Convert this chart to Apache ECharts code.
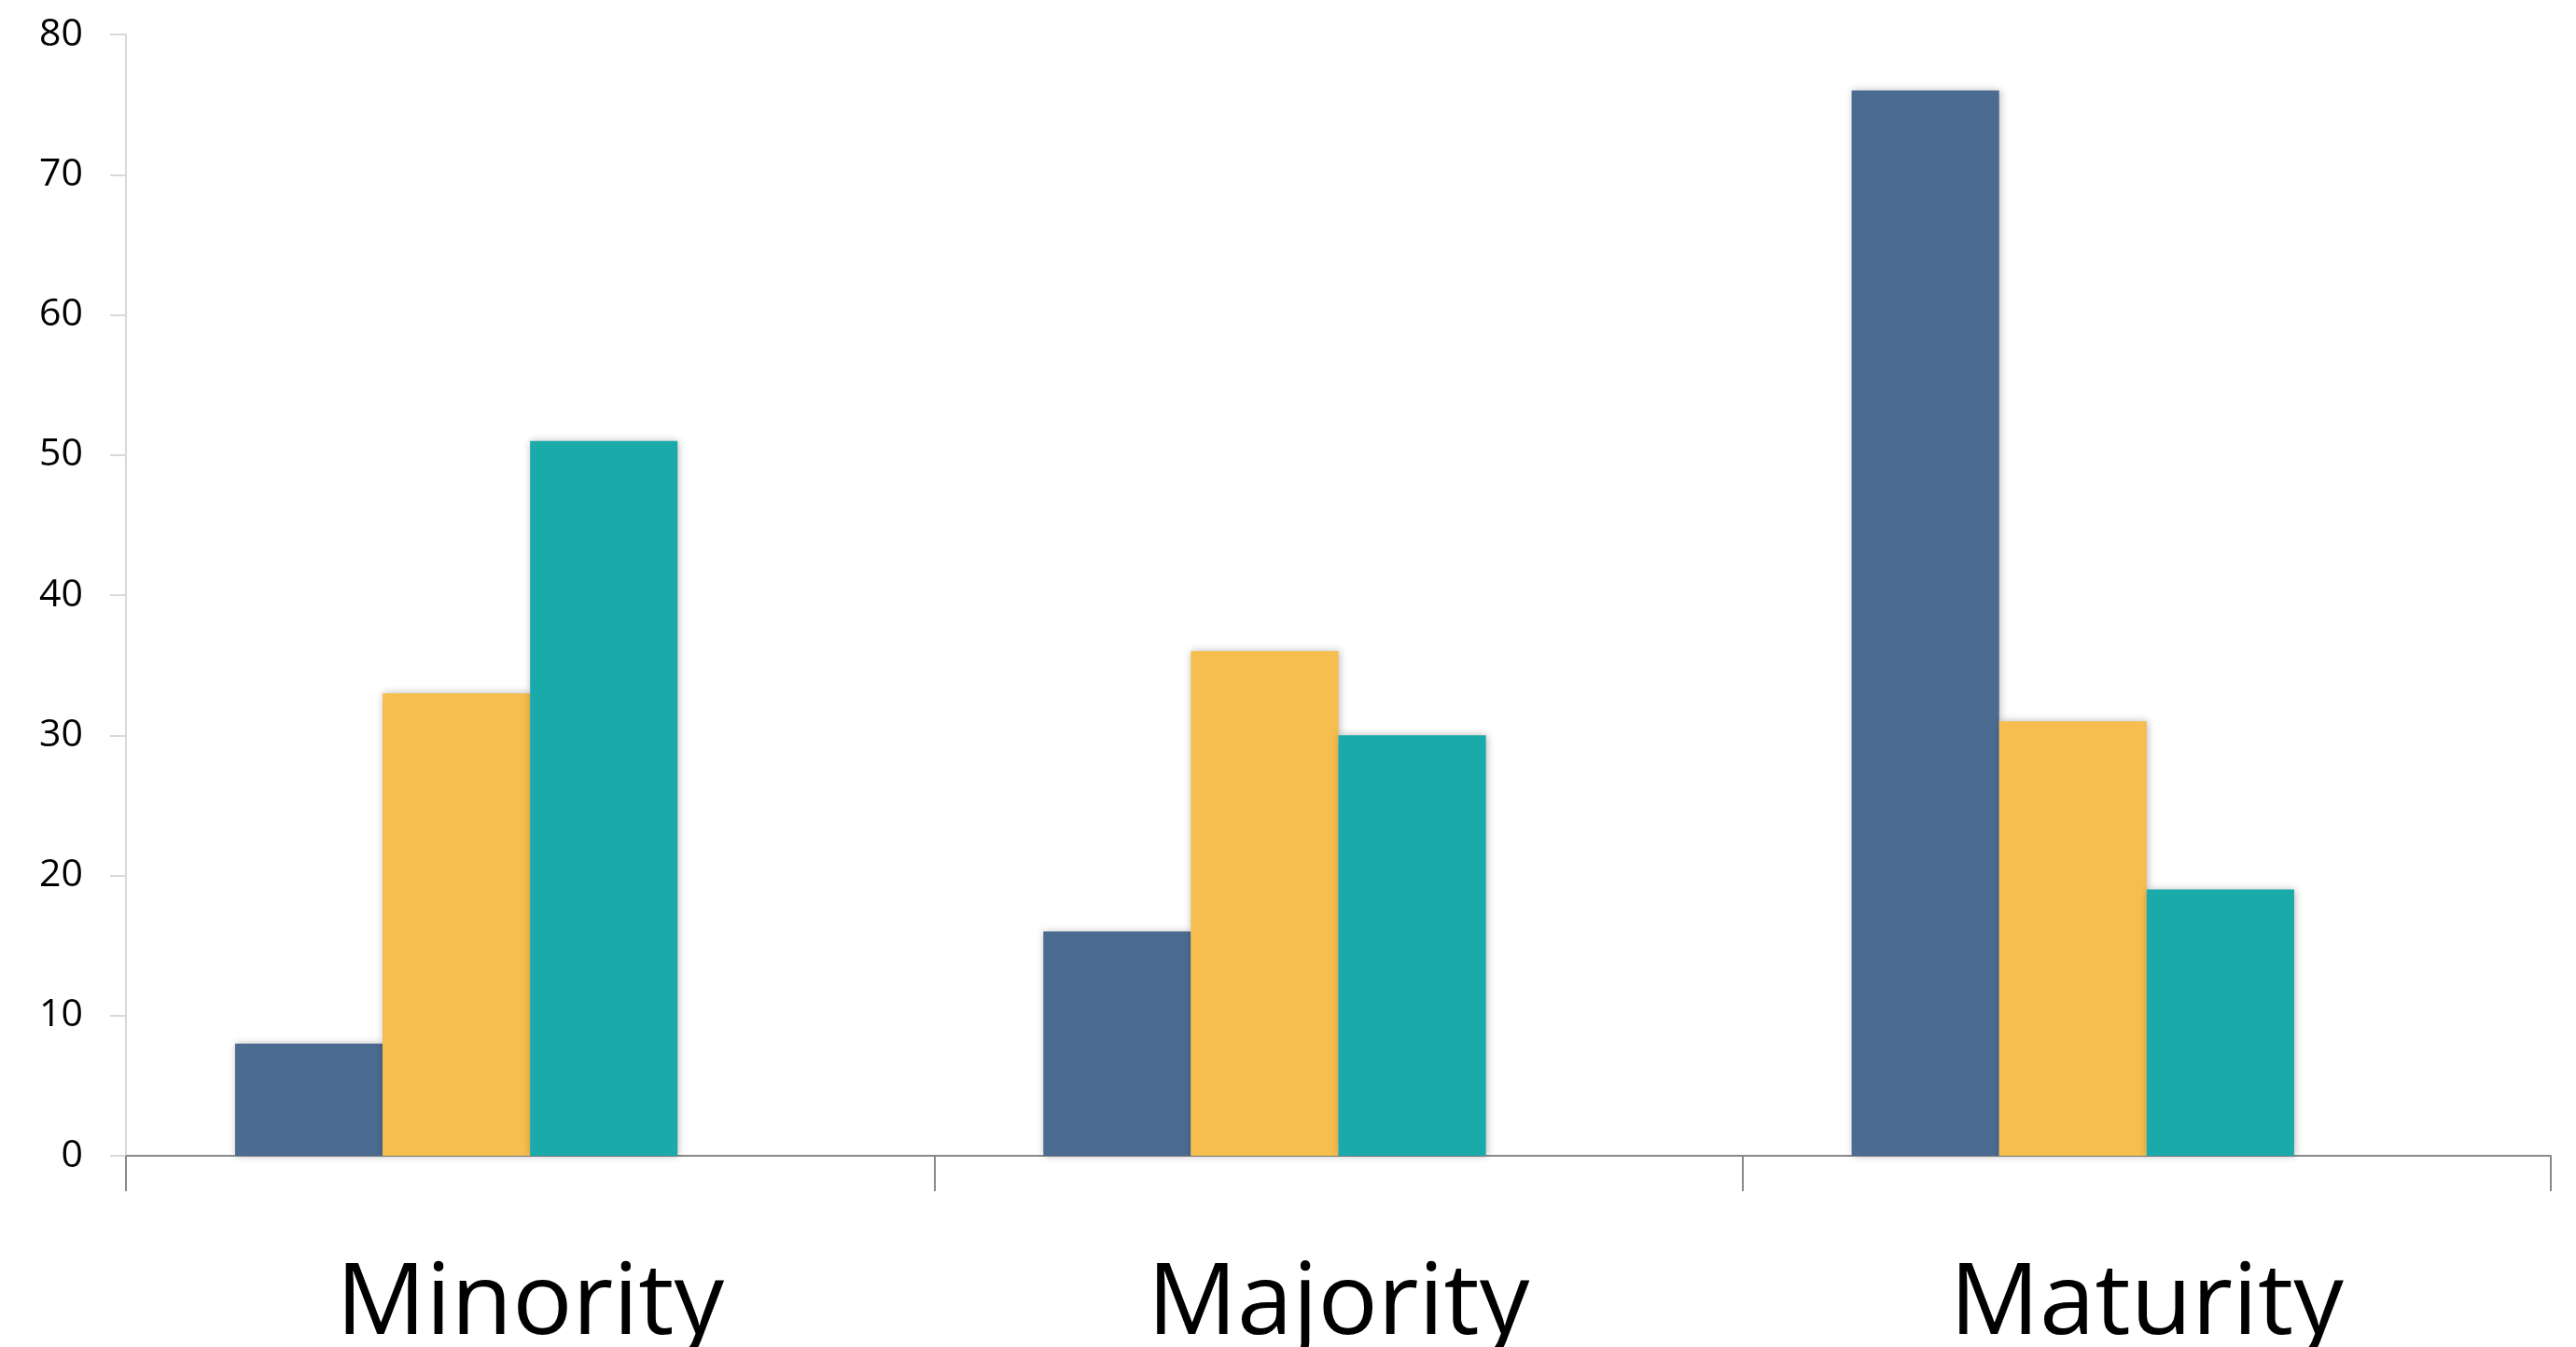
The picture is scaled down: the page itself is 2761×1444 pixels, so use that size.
<!DOCTYPE html>
<html>
<head>
<meta charset="utf-8">
<script src="https://cdn.jsdelivr.net/npm/echarts@6/dist/echarts.min.js"></script>
<style>
html,body{margin:0;padding:0;background:#fff;}
#chart{width:2761px;height:1444px;}
</style>
</head>
<body>
<div id="chart"></div>
<script>
const categories = ['Minority', 'Majority', 'Maturity'];
const seriesNames = ['Series 1', 'Series 2', 'Series 3', 'Series 4'];
const series1 = [8, 16, 76];
const series2 = [33, 36, 31];
const series3 = [51, 30, 19];
const series4 = [null, null, null];
const yTicks = [0, 10, 20, 30, 40, 50, 60, 70, 80];

const colors = ['#4C6B91', '#F6BE4F', '#1BAAAA', '#999999'];
const allData = [series1, series2, series3, series4];

const chart = echarts.init(document.getElementById('chart'), null, {renderer: 'canvas'});
chart.setOption({
  animation: false,
  backgroundColor: '#ffffff',
  grid: {left: 135, right: 27, top: 37, bottom: 205, containLabel: false, outerBoundsMode: 'none'},
  xAxis: {
    type: 'category',
    data: categories,
    boundaryGap: true,
    axisLine: {show: true, lineStyle: {color: '#898989', width: 2}},
    axisTick: {show: true, length: 38, lineStyle: {color: '#898989', width: 2}},
    axisLabel: {fontFamily: 'Open Sans', fontSize: 107, color: '#000', margin: 107}
  },
  yAxis: {
    type: 'value',
    min: yTicks[0],
    max: yTicks[yTicks.length - 1],
    interval: 10,
    axisLine: {show: true, lineStyle: {color: '#D9D9D9', width: 2}},
    axisTick: {show: true, length: 17, lineStyle: {color: '#D9D9D9', width: 2}},
    splitLine: {show: false},
    axisLabel: {fontFamily: 'Open Sans', fontSize: 41, color: '#000', margin: 46}
  },
  series: allData.map((d, i) => ({
    name: seriesNames[i],
    type: 'bar',
    data: d,
    barGap: '0%',
    barCategoryGap: '27%',
    itemStyle: {
      color: colors[i],
      shadowBlur: 8,
      shadowColor: 'rgba(0,0,0,0.28)',
      shadowOffsetX: 1,
      shadowOffsetY: 0
    }
  }))
});
</script>
</body>
</html>
